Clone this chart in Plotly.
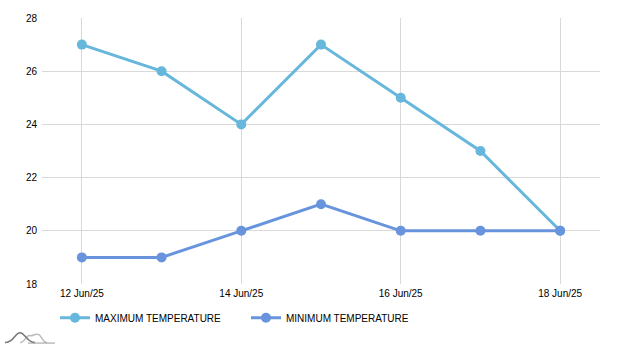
import plotly.graph_objects as go

dates = ["2025-06-12", "2025-06-13", "2025-06-14", "2025-06-15",
         "2025-06-16", "2025-06-17", "2025-06-18"]
max_temp = [27, 26, 24, 27, 25, 23, 20]
min_temp = [19, 19, 20, 21, 20, 20, 20]
tick_dates = ["2025-06-12", "2025-06-14", "2025-06-16", "2025-06-18"]
tick_labels = ["12 Jun/25", "14 Jun/25", "16 Jun/25", "18 Jun/25"]
y_ticks = [18, 20, 22, 24, 26, 28]

FONT = "Liberation Sans, Arial, sans-serif"
FS = 10

fig = go.Figure()
fig.add_trace(go.Scatter(
    x=dates, y=max_temp, name="MAXIMUM TEMPERATURE", mode="lines+markers",
    line=dict(color="#67b7dc", width=3), marker=dict(size=10, color="#67b7dc")))
fig.add_trace(go.Scatter(
    x=dates, y=min_temp, name="MINIMUM TEMPERATURE", mode="lines+markers",
    line=dict(color="#6794dc", width=3), marker=dict(size=10, color="#6794dc")))

L, R, T, B = 42, 20, 16, 64
W, H = 620, 348
pw, ph = W - L - R, H - T - B

def px(x):
    return (x - L) / pw

def py(y):
    return (H - B - y) / ph

def path(cmds):
    out = []
    for c in cmds:
        if isinstance(c, str):
            out.append(c)
        else:
            out.append("{:.5f},{:.5f}".format(px(c[0]), py(c[1])))
    return " ".join(out)

# small logo, bottom-left
logo1 = path(["M", (5, 343), "C", (14, 343), (15, 333), (20, 333),
              "C", (25, 333), (27, 343), (35, 343)])
logo2 = path(["M", (20, 343), "C", (25, 343), (26, 335), (30, 336),
              "C", (33, 337), (35, 333), (39, 335),
              "C", (42, 337), (43, 343), (47, 343)])
logo3 = path(["M", (28, 343.5), "L", (55, 343.5)])

fig.update_layout(
    width=W, height=H,
    margin=dict(l=L, r=R, t=T, b=B),
    paper_bgcolor="white", plot_bgcolor="white",
    font=dict(family=FONT, size=FS, color="#000000"),
    xaxis=dict(
        type="date",
        range=["2025-06-11 12:00", "2025-06-18 12:00"],
        tickvals=tick_dates, ticktext=tick_labels,
        showgrid=True, gridcolor="#d9d9d9", gridwidth=1,
        zeroline=False, showline=False, ticks="",
        ticklabelstandoff=2,
        tickfont=dict(family=FONT, size=FS),
    ),
    yaxis=dict(
        range=[18, 28], tickvals=y_ticks,
        showgrid=True, gridcolor="#d9d9d9", gridwidth=1,
        zeroline=False, showline=False, ticks="",
        ticklabelstandoff=4,
        tickfont=dict(family=FONT, size=FS),
    ),
    legend=dict(
        orientation="h", x=px(55), y=py(318), yanchor="middle", xanchor="left",
        font=dict(family=FONT, size=FS),
        entrywidth=146, entrywidthmode="pixels",
        bgcolor="rgba(0,0,0,0)",
    ),
    shapes=[
        dict(type="path", xref="paper", yref="paper", path=logo2,
             line=dict(color="#bbbbbb", width=1.5)),
        dict(type="path", xref="paper", yref="paper", path=logo1,
             line=dict(color="#777777", width=1.5)),
        dict(type="path", xref="paper", yref="paper", path=logo3,
             line=dict(color="#999999", width=1)),
    ],
)

fig.write_html("out.html")
